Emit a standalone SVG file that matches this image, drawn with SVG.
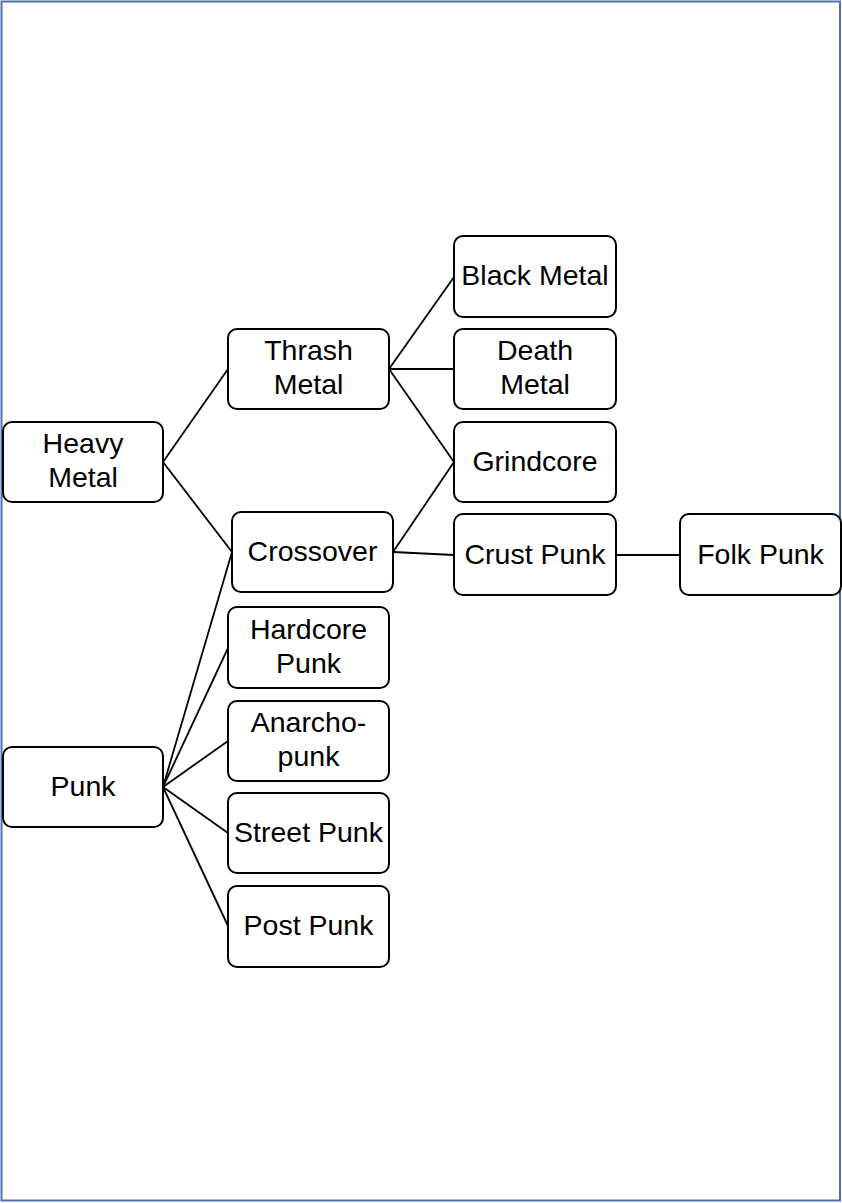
<svg xmlns="http://www.w3.org/2000/svg" width="842" height="1203" viewBox="0 0 842 1203">
<style>
.box{fill:#fff;stroke:#000;stroke-width:2}
.t{font-family:"Liberation Sans",Arial,sans-serif;font-size:28.5px;fill:#000;text-anchor:middle}
.c{stroke:#000;stroke-width:1.8;fill:none}
</style>
<rect width="842" height="1203" fill="#fff"/>
<rect x="1.5" y="1.5" width="838.5" height="1199" fill="none" stroke="#4f72a8" stroke-width="2"/>
<g id="connectors">
<line class="c" x1="163" y1="462" x2="228" y2="369"/>
<line class="c" x1="163" y1="462" x2="232" y2="552"/>
<line class="c" x1="389" y1="369" x2="454" y2="277"/>
<line class="c" x1="389" y1="369" x2="454" y2="369"/>
<line class="c" x1="389" y1="369" x2="454" y2="462"/>
<line class="c" x1="393" y1="552" x2="454" y2="462"/>
<line class="c" x1="393" y1="552" x2="454" y2="555"/>
<line class="c" x1="616" y1="555" x2="680" y2="555"/>
<line class="c" x1="163" y1="787" x2="232" y2="552"/>
<line class="c" x1="163" y1="787" x2="228" y2="648"/>
<line class="c" x1="163" y1="787" x2="228" y2="741"/>
<line class="c" x1="163" y1="787" x2="228" y2="833"/>
<line class="c" x1="163" y1="787" x2="228" y2="926"/>
</g>
<g id="heavy-metal"><rect class="box" x="3" y="422" width="160" height="80" rx="9"/><text class="t" x="83" y="453">Heavy</text><text class="t" x="83" y="487">Metal</text></g>
<g id="thrash-metal"><rect class="box" x="228" y="329" width="161" height="80" rx="9"/><text class="t" x="308.5" y="360">Thrash</text><text class="t" x="308.5" y="394">Metal</text></g>
<g id="black-metal"><rect class="box" x="454" y="236" width="162" height="81" rx="9"/><text class="t" x="535" y="285">Black Metal</text></g>
<g id="death-metal"><rect class="box" x="454" y="329" width="162" height="80" rx="9"/><text class="t" x="535" y="360">Death</text><text class="t" x="535" y="394">Metal</text></g>
<g id="grindcore"><rect class="box" x="454" y="422" width="162" height="80" rx="9"/><text class="t" x="535" y="471">Grindcore</text></g>
<g id="crossover"><rect class="box" x="232" y="512" width="161" height="80" rx="9"/><text class="t" x="312.5" y="561">Crossover</text></g>
<g id="crust-punk"><rect class="box" x="454" y="514" width="162" height="81" rx="9"/><text class="t" x="535" y="564">Crust Punk</text></g>
<g id="folk-punk"><rect class="box" x="680" y="514" width="161" height="81" rx="9"/><text class="t" x="760.5" y="564">Folk Punk</text></g>
<g id="hardcore-punk"><rect class="box" x="228" y="607" width="161" height="81" rx="9"/><text class="t" x="308.5" y="639">Hardcore</text><text class="t" x="308.5" y="673">Punk</text></g>
<g id="anarcho-punk"><rect class="box" x="228" y="701" width="161" height="80" rx="9"/><text class="t" x="308.5" y="732">Anarcho-</text><text class="t" x="308.5" y="766">punk</text></g>
<g id="punk"><rect class="box" x="3" y="747" width="160" height="80" rx="9"/><text class="t" x="83" y="796">Punk</text></g>
<g id="street-punk"><rect class="box" x="228" y="793" width="161" height="80" rx="9"/><text class="t" x="308.5" y="842">Street Punk</text></g>
<g id="post-punk"><rect class="box" x="228" y="886" width="161" height="81" rx="9"/><text class="t" x="308.5" y="935">Post Punk</text></g>
</svg>
